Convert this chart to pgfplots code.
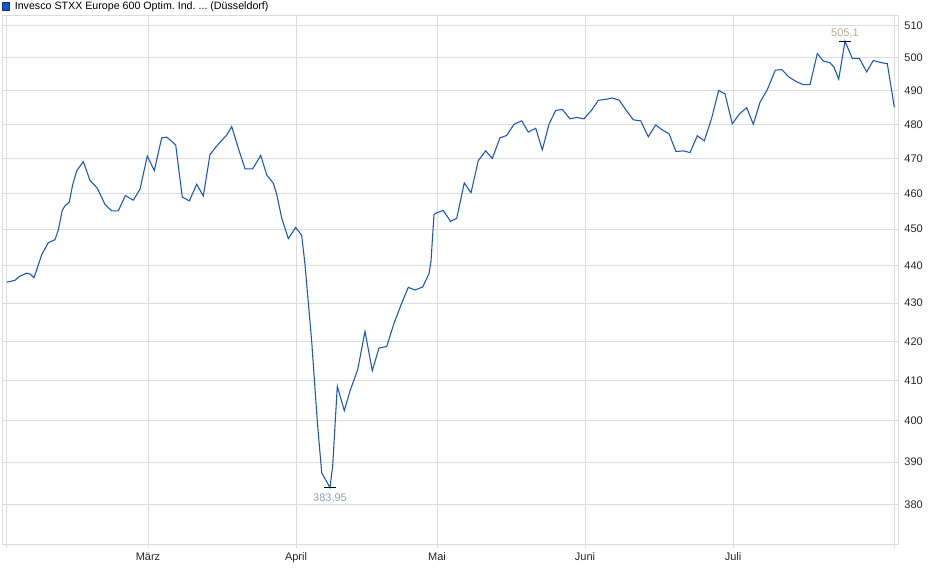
\documentclass[border=0pt]{standalone}
\usepackage{pgfplots}
\pgfplotsset{compat=1.18}
\usepackage{fontspec}
\setmainfont{Liberation Sans}
\frenchspacing

\definecolor{kurs}{RGB}{25,85,195}
\definecolor{kursrand}{RGB}{20,50,130}
\definecolor{gitter}{RGB}{220,220,220}
\definecolor{maxlab}{RGB}{185,170,145}
\definecolor{minlab}{RGB}{150,160,180}

% 1 px of the reference = 0.75pt
\begin{document}
\begin{tikzpicture}
\useasboundingbox (0,0) rectangle (705pt,434.25pt);
\begin{axis}[
    at={(1.5pt,25.5pt)}, anchor=south west,
    scale only axis,
    width=672pt, height=396.75pt,
    xmin=2, xmax=898,
    ymode=log, ymin=370.68, ymax=513.05,
    xtick={148,296,437,585,733},
    xticklabels={März,April,Mai,Juni,Juli},
    extra x ticks={6,894},
    extra x tick labels={},
    extra x tick style={grid=major},
    ytick={380,390,400,410,420,430,440,450,460,470,480,490,500,510},
    yticklabels={380,390,400,410,420,430,440,450,460,470,480,490,500,510},
    yticklabel pos=right,
    yticklabel style={xshift=-1pt},
    ytick style={draw=none},
    xtick pos=bottom,
    tick align=outside,
    major tick length=2.25pt,
    tick style={gitter},
    grid=major,
    major grid style={draw=gitter, line width=0.75pt},
    axis line style={draw=gitter, line width=0.75pt},
    ticklabel style={font=\fontsize{8.25pt}{9pt}\selectfont, text=black!85},
    legend style={at={(rel axis cs:0,1)}, anchor=south west, draw=none, fill=none,
        inner sep=0pt, outer sep=0pt, xshift=0pt, yshift=1.5pt,
        font=\fontsize{8pt}{9pt}\selectfont},
    legend cell align=left,
]
\addlegendimage{legend image code/.code={
    \draw[fill=kurs, draw=kursrand, line width=0.5pt] (0pt,-2.8pt) rectangle (5.6pt,2.8pt);}}
\addlegendentry{\hspace{1.5pt}Invesco STXX Europe 600 Optim. Ind. ... (Düsseldorf)}

\addplot[kurs, line width=0.8pt, forget plot] coordinates {
(6.7,435.6) (10.7,435.8) (15,436.1) (19.3,437.1) (26.7,438.0) (30,437.8)
(34,436.8) (36.7,438.9) (41.7,443.0) (48.3,446.3) (55,447.1) (58.3,449.8)
(62.3,455.3) (65,456.5) (69.3,457.6) (72.7,462.5) (76.7,466.4) (83.3,469.1)
(90,463.7) (97.3,461.5) (105,456.9) (111.7,455.1) (118.3,455.1) (125.3,459.4)
(133.3,458.1) (140,461.2) (147.3,470.7) (154.3,466.5) (161.7,476.0) (166.7,476.2)
(171.7,475.0) (175.7,473.9) (182.3,459.0) (189.3,457.9) (196.7,462.6) (203.3,459.3)
(210,471.1) (215,473.0) (220,474.7) (226.7,476.8) (231.7,479.3) (238.3,473.0)
(245,467.0) (252.7,467.0) (260.7,470.9) (266.7,465.3) (273.3,462.9) (276.7,459.8)
(281.7,453.1) (288.3,447.4) (295.7,450.5) (301.7,448.3) (305,440.3) (311.7,420.0)
(317.3,399.9) (321.7,387.5) (330,383.95) (332.7,389.2) (337.3,408.6) (344.3,402.5)
(350,407.4) (357.7,412.8) (365,422.6) (372.3,412.5) (379,418.3) (386.7,418.7)
(394,424.7) (401.7,430.0) (408.3,434.2) (415,433.5) (422.7,434.3) (429,437.9)
(431,441.2) (434,454.1) (436.7,454.6) (443.3,455.2) (450.5,452.2) (456.7,453.0)
(464.3,463.0) (471,460.2) (478.3,469.4) (485.7,472.2) (492.3,470.0) (500,476.0)
(506.7,476.7) (514,480.0) (521.7,481.0) (528.3,477.7) (535.7,478.8) (542.3,472.5)
(549,480.0) (555.7,484.1) (562.3,484.4) (570,481.6) (576.7,482.0) (584,481.6)
(591.7,484.2) (598.3,487.1) (605.7,487.4) (612.3,487.8) (619.3,487.1) (626,484.2)
(633.3,481.3) (640.7,481.0) (648.3,476.3) (655.7,479.8) (662.3,478.3) (669,477.2)
(676,472.0) (683.3,472.2) (690,471.7) (697.3,476.6) (704.3,475.1) (711.7,481.8)
(718.7,490.1) (725,489.0) (732.3,480.1) (739.3,483.0) (746.7,484.9) (753.3,480.0)
(760,486.5) (767.3,490.3) (775.3,496.2) (781.7,496.4) (789,494.1) (796,492.8)
(803.3,491.8) (810,491.8) (817.3,501.3) (823.3,499.0) (830,498.5) (834,497.1)
(838.7,493.5) (845,505.1) (852.3,499.8) (859.3,499.8) (866.7,495.7) (873.3,499.2)
(880,498.6) (887.3,498.2) (890.7,491.8) (894.3,485.0)
};

% Hoch / Tief
\addplot[black, only marks, mark=-, mark size=4.5pt, line width=0.8pt, forget plot,
    nodes near coords={505,1},
    every node near coord/.append style={anchor=south, text=maxlab, yshift=-1.5pt,
        font=\fontsize{8.25pt}{9pt}\selectfont}]
    coordinates {(845,505.1)};
\addplot[black, only marks, mark=-, mark size=4.5pt, line width=0.8pt, forget plot,
    nodes near coords={383,95},
    every node near coord/.append style={anchor=north, text=minlab, yshift=-1pt,
        font=\fontsize{8.25pt}{9pt}\selectfont}]
    coordinates {(330,383.95)};
\end{axis}
\end{tikzpicture}
\end{document}
